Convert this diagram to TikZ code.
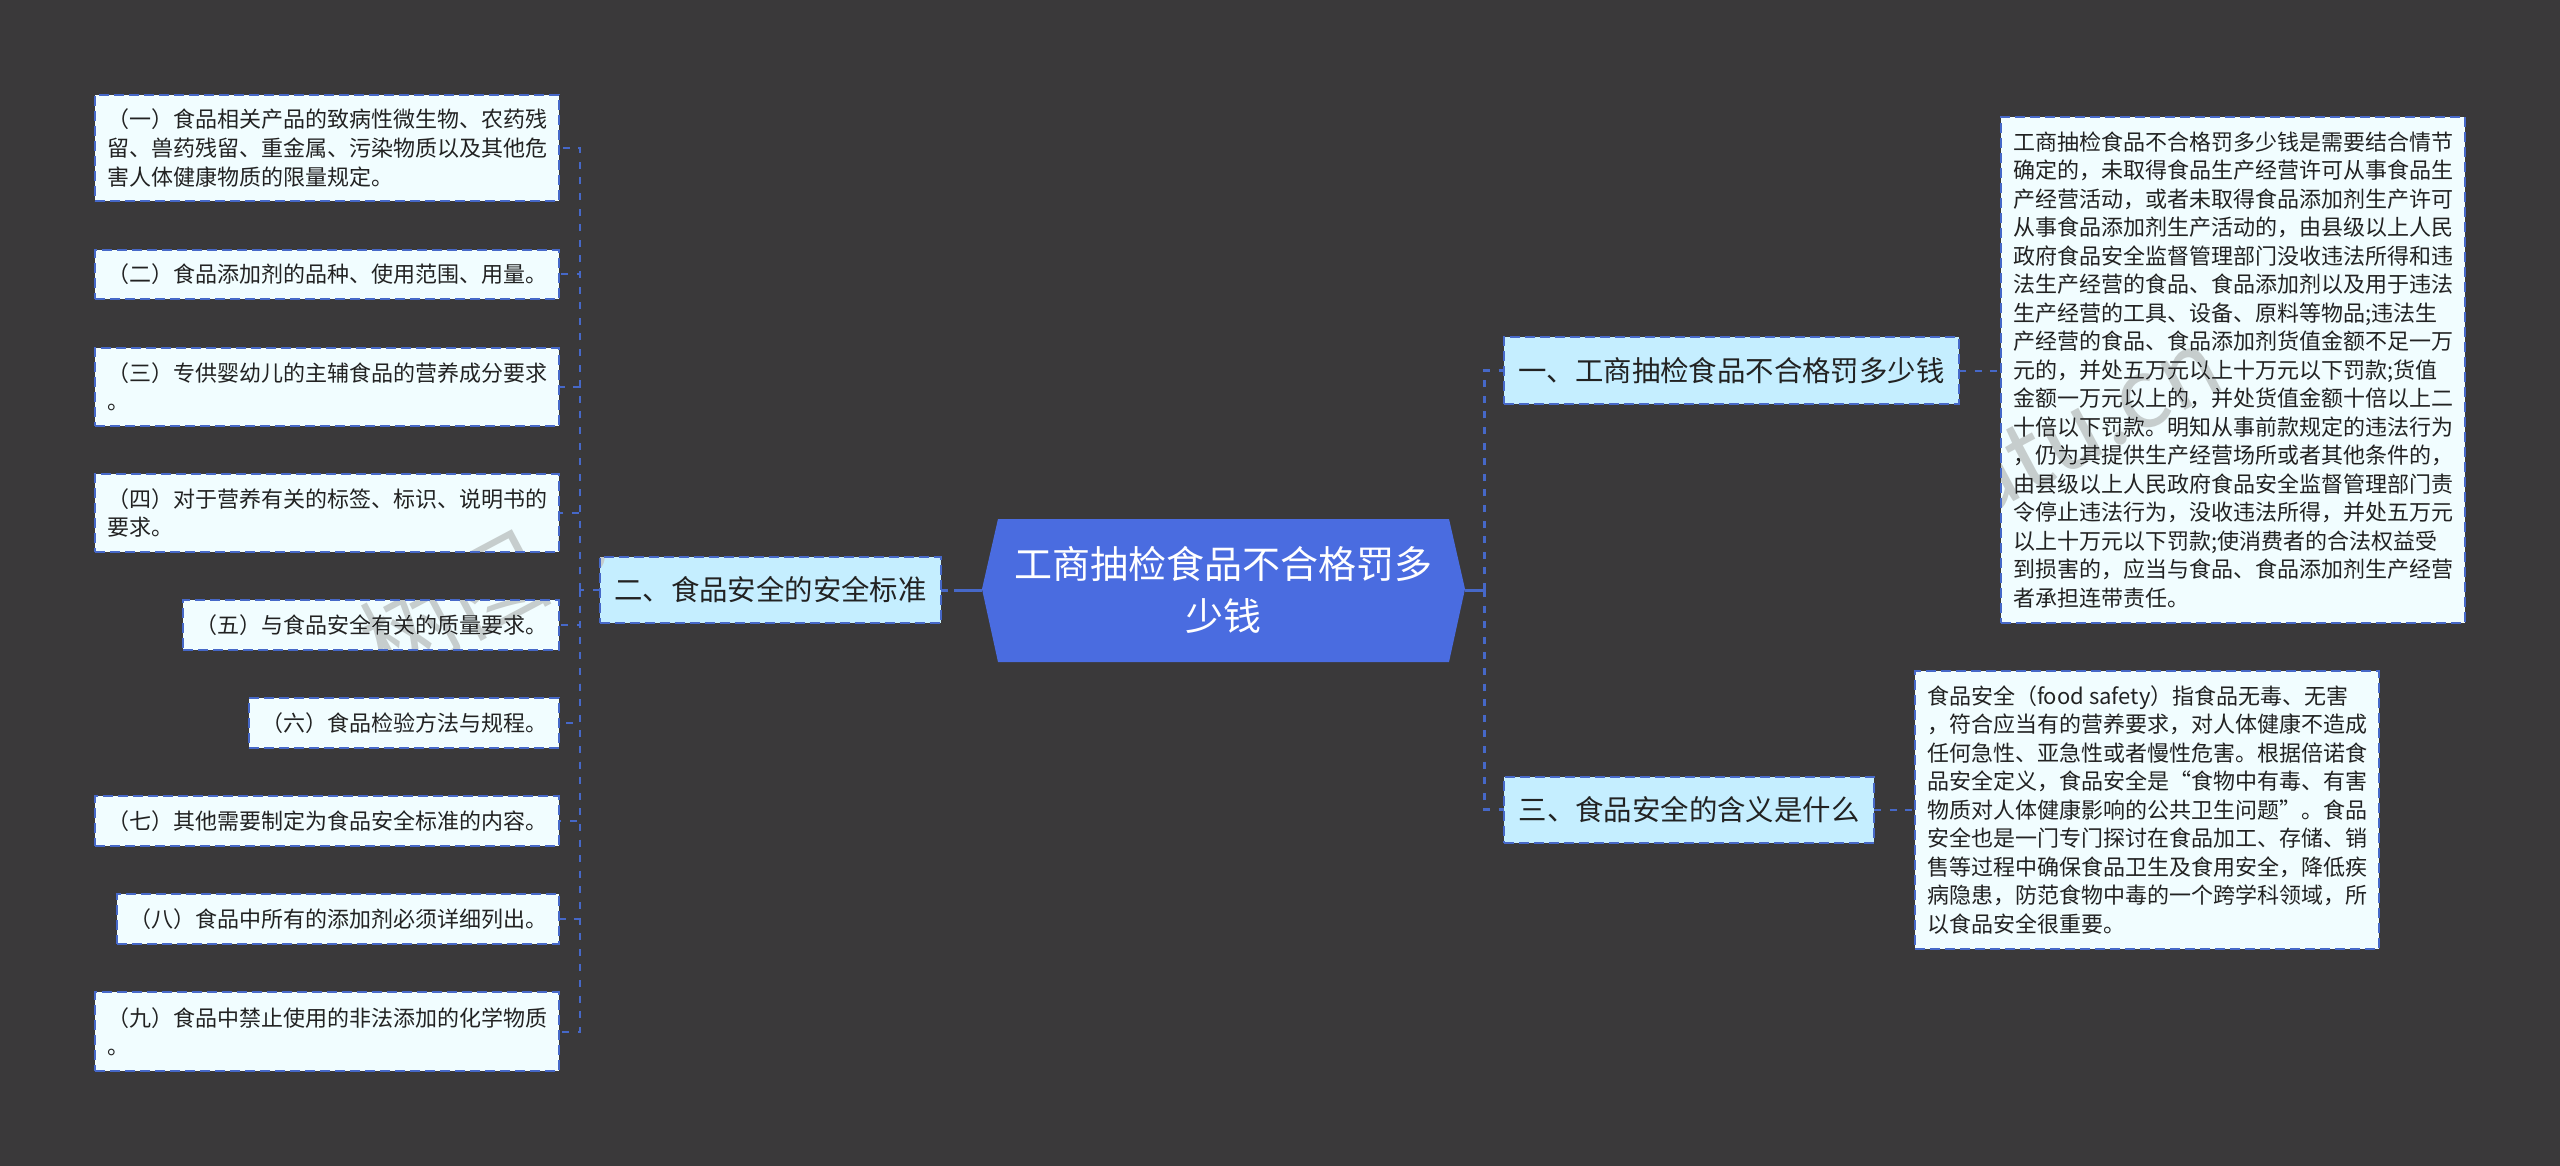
\documentclass[tikz,border=0pt]{standalone}
\usepackage{fontspec}
\setmainfont{Noto Sans CJK SC}
\definecolor{bgdark}{HTML}{3A393A}
\definecolor{edgeblue}{HTML}{4668C8}
\definecolor{rootblue}{HTML}{4A6CE0}
\definecolor{leaffill}{HTML}{F1FDFF}
\definecolor{branchfill}{HTML}{C5EEFF}
\definecolor{inkdark}{HTML}{222222}
\definecolor{markgray}{HTML}{C6CDCD}
\tikzset{
	boxbase/.style={rectangle,draw=edgeblue,line width=1pt,dash pattern=on 5pt off 2.5pt,outer sep=0pt,inner ysep=0pt,align=left,text=inkdark},
	leafbox/.style={boxbase,fill=leaffill,inner xsep=6pt,font=\fontsize{11}{14.25}\selectfont,anchor=north east},
	textbox/.style={boxbase,fill=leaffill,inner xsep=6pt,font=\fontsize{11}{14.25}\selectfont,anchor=north west},
	branchbox/.style={boxbase,fill=branchfill,inner xsep=7.3pt,font=\fontsize{14.2}{18}\selectfont,minimum height=33pt},
	roottext/.style={rectangle,outer sep=0pt,inner sep=0pt,align=center,text=white,minimum width=241.5pt,minimum height=71pt,font=\fontsize{19}{26}\selectfont},
	leaflink/.style={draw=edgeblue,line width=1pt,dash pattern=on 3.5pt off 4.3pt},
	trunklink/.style={draw=edgeblue,line width=1.5pt,dash pattern=on 3.5pt off 4.3pt},
	rootlink/.style={draw=edgeblue,line width=1.5pt,dash pattern=on 14pt off 3pt},
	watermark/.style={text=markgray,font=\fontsize{48}{48}\selectfont,rotate=28,inner sep=0pt}
}
\begin{document}
\begin{tikzpicture}[x=0.5pt,y=-0.5pt]
	\useasboundingbox (0,0) rectangle (2560,1166);
	\fill[bgdark] (0,0) rectangle (2560,1166);

	\fill[rootblue] (982,589) -- (998,519) -- (1449,519) -- (1465,589) -- (1449,662) -- (998,662) -- cycle;
	\node[roottext] (root) at (1223.5,590) {工商抽检食品不合格罚多\\少钱};

	\node[branchbox] (second) at (770.5,590) {二、食品安全的安全标准};
	\node[branchbox] (first) at (1731.5,370.5) {一、工商抽检食品不合格罚多少钱};
	\node[branchbox] (third) at (1689,809.5) {三、食品安全的含义是什么};

	\node[leafbox,minimum height=53pt] (leafa) at (559,95) {（一）食品相关产品的致病性微生物、农药残\\留、兽药残留、重金属、污染物质以及其他危\\害人体健康物质的限量规定。};
	\node[leafbox,minimum height=24.5pt] (leafb) at (559,250) {（二）食品添加剂的品种、使用范围、用量。};
	\node[leafbox,minimum height=39pt] (leafc) at (559,348) {（三）专供婴幼儿的主辅食品的营养成分要求\\。};
	\node[leafbox,minimum height=39pt] (leafd) at (559,474) {（四）对于营养有关的标签、标识、说明书的\\要求。};
	\node[leafbox,minimum height=25pt] (leafe) at (559,600) {（五）与食品安全有关的质量要求。};
	\node[leafbox,minimum height=25pt] (leaff) at (559,698) {（六）食品检验方法与规程。};
	\node[leafbox,minimum height=25pt] (leafg) at (559,796) {（七）其他需要制定为食品安全标准的内容。};
	\node[leafbox,minimum height=25pt] (leafh) at (559,894) {（八）食品中所有的添加剂必须详细列出。};
	\node[leafbox,minimum height=39.5pt] (leafi) at (559,992) {（九）食品中禁止使用的非法添加的化学物质\\。};

	\node[textbox,minimum height=253pt] (detaila) at (2001,117) {工商抽检食品不合格罚多少钱是需要结合情节\\确定的，未取得食品生产经营许可从事食品生\\产经营活动，或者未取得食品添加剂生产许可\\从事食品添加剂生产活动的，由县级以上人民\\政府食品安全监督管理部门没收违法所得和违\\法生产经营的食品、食品添加剂以及用于违法\\生产经营的工具、设备、原料等物品;违法生\\产经营的食品、食品添加剂货值金额不足一万\\元的，并处五万元以上十万元以下罚款;货值\\金额一万元以上的，并处货值金额十倍以上二\\十倍以下罚款。明知从事前款规定的违法行为\\，仍为其提供生产经营场所或者其他条件的，\\由县级以上人民政府食品安全监督管理部门责\\令停止违法行为，没收违法所得，并处五万元\\以上十万元以下罚款;使消费者的合法权益受\\到损害的，应当与食品、食品添加剂生产经营\\者承担连带责任。};
	\node[textbox,minimum height=139pt] (detailb) at (1915,671) {食品安全（food safety）指食品无毒、无害\\，符合应当有的营养要求，对人体健康不造成\\任何急性、亚急性或者慢性危害。根据倍诺食\\品安全定义，食品安全是“食物中有毒、有害\\物质对人体健康影响的公共卫生问题”。食品\\安全也是一门专门探讨在食品加工、存储、销\\售等过程中确保食品卫生及食用安全，降低疾\\病隐患，防范食物中毒的一个跨学科领域，所\\以食品安全很重要。};

	\coordinate (trunkleft) at (580,590);
	\coordinate (trunkright) at (1484,590);

	\draw[rootlink] (root.west) -- (second.east);
	\draw[leaflink] (second.west) -- (trunkleft);
	\draw[leaflink] (trunkleft) |- (leafa.east);
	\draw[leaflink] (trunkleft) |- (leafb.east);
	\draw[leaflink] (trunkleft) |- (leafc.east);
	\draw[leaflink] (trunkleft) |- (leafd.east);
	\draw[leaflink] (trunkleft) |- (leafe.east);
	\draw[leaflink] (trunkleft) |- (leaff.east);
	\draw[leaflink] (trunkleft) |- (leafg.east);
	\draw[leaflink] (trunkleft) |- (leafh.east);
	\draw[leaflink] (trunkleft) |- (leafi.east);

	\draw[rootlink] (root.east) -- (trunkright);
	\draw[trunklink] (trunkright) |- (first.west);
	\draw[trunklink] (trunkright) |- (third.west);
	\draw[leaflink] (first.east) -- (first.east -| detaila.west);
	\draw[leaflink] (third.east) -- (third.east -| detailb.west);

	\begin{scope}[blend mode=darken]
		\node[watermark,anchor=west] (marka) at (368,652) {树图 shutu.cn};
		\node[watermark,anchor=east] (markb) at (2212,355) {树图 shutu.cn};
	\end{scope}
\end{tikzpicture}
\end{document}
